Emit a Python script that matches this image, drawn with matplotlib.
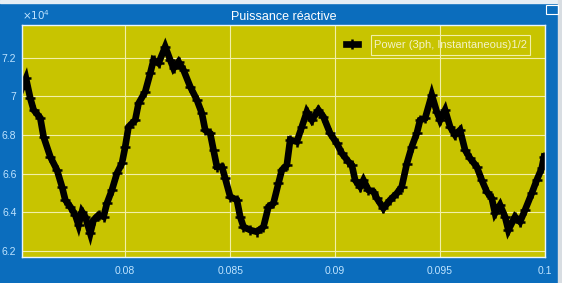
import matplotlib
matplotlib.use("Agg")
import matplotlib.pyplot as plt
from matplotlib.patches import Rectangle
from matplotlib.ticker import FuncFormatter

# time (s) and reactive power (x1e4 var)
t = [0.075081, 0.075271, 0.075476, 0.075633, 0.075952, 0.076110, 0.076429, 0.076748,
     0.076986, 0.077143, 0.077381, 0.077619, 0.077776, 0.077938, 0.078095, 0.078333,
     0.078490, 0.078729, 0.078967, 0.079129, 0.079367, 0.079605, 0.079843, 0.080000,
     0.080157, 0.080476, 0.080633, 0.080952, 0.081190, 0.081348, 0.081586, 0.081905,
     0.082143, 0.082300, 0.082538, 0.082776, 0.083095, 0.083414, 0.083652, 0.083810,
     0.084048, 0.084205, 0.084367, 0.084605, 0.084762, 0.085000, 0.085319, 0.085476,
     0.085633, 0.085952, 0.086271, 0.086586, 0.086824, 0.087062, 0.087300, 0.087462,
     0.087700, 0.087857, 0.088176, 0.088414, 0.088652, 0.088890, 0.089205, 0.089443,
     0.089762, 0.090081, 0.090319, 0.090633, 0.090795, 0.090952, 0.091190, 0.091348,
     0.091586, 0.091824, 0.091986, 0.092300, 0.092619, 0.092938, 0.093176, 0.093414,
     0.093652, 0.093890, 0.094048, 0.094286, 0.094605, 0.094843, 0.095000, 0.095238,
     0.095476, 0.095714, 0.095952, 0.096190, 0.096429, 0.096748, 0.096986, 0.097224,
     0.097462, 0.097619, 0.097857, 0.098095, 0.098252, 0.098571, 0.098810, 0.099048,
     0.099367, 0.099605, 0.099843, 0.099952]
q = [7.043, 7.093, 6.990, 6.930, 6.888, 6.790, 6.687, 6.618,
     6.532, 6.463, 6.428, 6.385, 6.333, 6.402, 6.376, 6.290,
     6.359, 6.385, 6.376, 6.446, 6.515, 6.601, 6.653, 6.739,
     6.842, 6.877, 6.963, 7.024, 7.119, 7.188, 7.171, 7.257,
     7.188, 7.145, 7.179, 7.136, 7.050, 6.981, 6.912, 6.825,
     6.808, 6.722, 6.635, 6.635, 6.575, 6.480, 6.463, 6.376,
     6.324, 6.307, 6.298, 6.324, 6.428, 6.446, 6.550, 6.618,
     6.644, 6.774, 6.765, 6.842, 6.920, 6.877, 6.929, 6.894,
     6.808, 6.756, 6.705, 6.661, 6.644, 6.566, 6.532, 6.566,
     6.515, 6.506, 6.472, 6.420, 6.463, 6.497, 6.532, 6.650,
     6.739, 6.808, 6.877, 6.886, 7.007, 6.920, 6.877, 6.929,
     6.842, 6.800, 6.825, 6.722, 6.679, 6.635, 6.566, 6.506,
     6.472, 6.394, 6.437, 6.376, 6.307, 6.376, 6.350, 6.411,
     6.497, 6.566, 6.627, 6.687]
q = [v * 1e4 for v in q]

xticks = [0.08, 0.085, 0.09, 0.095, 0.1]
yticks = [6.2e4, 6.4e4, 6.6e4, 6.8e4, 7.0e4, 7.2e4]

blue = "#0b6dbd"
yellow = "#c8c400"
lab = "#bfe4ff"
grid = "#f2f0a8"

plt.rcParams['font.family'] = ['Liberation Sans', 'DejaVu Sans']

fig = plt.figure(figsize=(5.62, 2.83), dpi=100, facecolor=blue)
ax = fig.add_axes([0.0391, 0.0929, 0.9307, 0.8205])
ax.set_facecolor(yellow)

ax.plot(t, q, color="black", lw=4.8, marker="+", ms=6.5, mew=1.8,
        solid_joinstyle="miter", label="Power (3ph, Instantaneous)1/2")

ax.set_xlim(0.07508, 0.1)
ax.set_ylim(6.169e4, 7.372e4)
ax.set_xticks(xticks)
ax.set_yticks(yticks)
ax.xaxis.set_major_formatter(FuncFormatter(lambda v, p: f"{v:g}"))
ax.yaxis.set_major_formatter(FuncFormatter(lambda v, p: f"{v/1e4:g}"))
ax.tick_params(colors=lab, labelsize=7.5, length=0, pad=7)
ax.tick_params(axis="y", pad=4)
ax.grid(True, color=grid, lw=0.8)
ax.set_axisbelow(True)
for s in ax.spines.values():
    s.set_color("#e8f4ff")
    s.set_linewidth(1)

ax.text(0.0, 1.01, r"$\times10^{4}$", transform=ax.transAxes, color=lab,
        fontsize=7.5, ha="left", va="bottom")
ax.set_title("Puissance réactive", color="white", fontsize=9, pad=3)

leg = ax.legend(loc="upper right", fontsize=8, frameon=False, handlelength=1.0,
                handletextpad=1.5, borderaxespad=0.5, bbox_to_anchor=(0.985, 0.975))
for txt in leg.get_texts():
    txt.set_color("#f4f2c8")

# frame only around the legend text, like the scope does
fig.canvas.draw()
bb = leg.get_texts()[0].get_window_extent().transformed(fig.transFigure.inverted())
px, py = 3 / 562, 5 / 283
fig.patches.append(Rectangle((bb.x0 - px, bb.y0 - py), bb.width + 2 * px, bb.height + 2 * py,
                             transform=fig.transFigure, fill=False, ec=grid, lw=0.8))

# window chrome: light strip on top and right
fig.patches.append(Rectangle((0, 0.99), 1, 0.01, transform=fig.transFigure,
                             color="#e6eef4", zorder=0))
fig.patches.append(Rectangle((0.993, 0), 0.007, 1, transform=fig.transFigure,
                             color="#d8dde2", zorder=0))
fig.patches.append(Rectangle((0.971, 0.952), 0.021, 0.03, transform=fig.transFigure,
                             fill=False, ec="white", lw=0.8))

fig.savefig("out.png", dpi=100, facecolor=blue)
